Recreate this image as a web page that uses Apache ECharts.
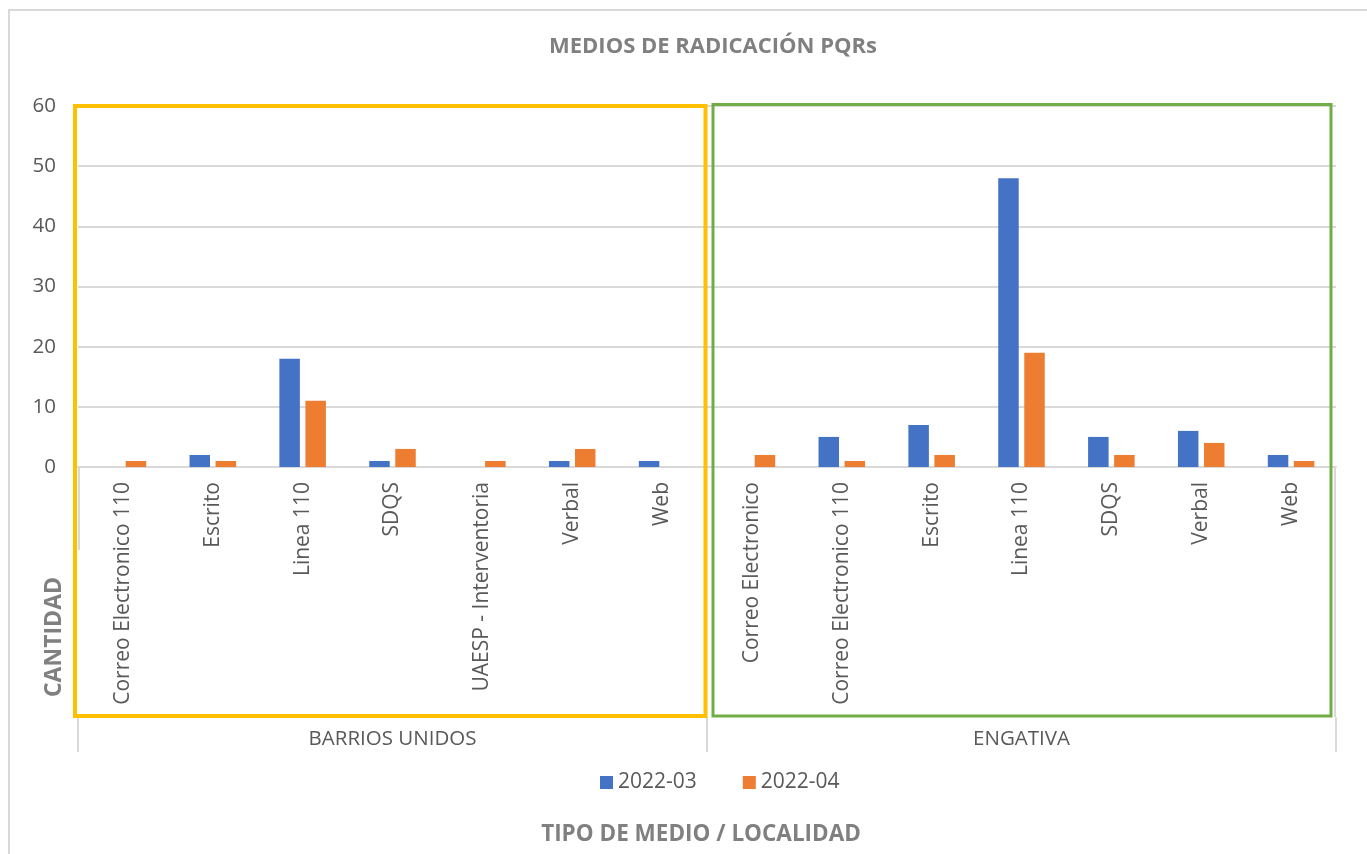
<!DOCTYPE html>
<html>
<head>
<meta charset="utf-8">
<script src="https://cdn.jsdelivr.net/npm/echarts@6/dist/echarts.min.js"></script>
<style>
  html, body { margin: 0; padding: 0; background: #fff; }
  #main { width: 1367px; height: 854px; }
</style>
</head>
<body>
<div id="main"></div>
<script>
// grupos (localidades) y medios de radicación
var groups = ['BARRIOS UNIDOS', 'ENGATIVA'];
var barriosCats = ['Correo Electronico 110', 'Escrito', 'Linea 110', 'SDQS', 'UAESP - Interventoria', 'Verbal', 'Web'];
var engativaCats = ['Correo Electronico', 'Correo Electronico 110', 'Escrito', 'Linea 110', 'SDQS', 'Verbal', 'Web'];
var seriesNames = ['2022-03', '2022-04'];
var yTicks = [0, 10, 20, 30, 40, 50, 60];

// valores (null = sin barra)
var barrios03 = [null, 2, 18, 1, null, 1, 1];
var barrios04 = [1, 1, 11, 3, 1, 3, null];
var engativa03 = [null, 5, 7, 48, 5, 6, 2];
var engativa04 = [2, 1, 2, 19, 2, 4, 1];

var cats = barriosCats.concat(engativaCats);
var gridL = 78, gridR = 1336, gridT = 106, gridB = 467;
var txt = '#595959', grey = '#d9d9d9', titleCol = '#808080';
var font = '"Open Sans", "DejaVu Sans", sans-serif';

var chart = echarts.init(document.getElementById('main'));

var option = {
  animation: false,
  backgroundColor: '#fff',
  textStyle: { fontFamily: font },
  grid: { left: gridL, right: 1367 - gridR, top: gridT, bottom: 854 - gridB, containLabel: false },
  legend: {
    data: seriesNames,
    left: 595, top: 767,
    itemWidth: 13, itemHeight: 13, itemGap: 46,
    icon: 'rect',
    textStyle: { color: txt, fontSize: 21, fontFamily: font }
  },
  xAxis: [
    {
      type: 'category',
      data: cats,
      axisLine: { show: true, lineStyle: { color: grey, width: 2 } },
      axisTick: { show: false },
      axisLabel: { rotate: 90, margin: 15, interval: 0, color: txt, fontSize: 21, fontFamily: font }
    },
    {
      type: 'category',
      data: groups,
      position: 'bottom',
      offset: 250,
      axisLine: { show: false },
      axisTick: { show: true, length: 35, interval: 0, lineStyle: { color: grey, width: 2 } },
      axisLabel: { margin: 12, color: txt, fontSize: 20.5, fontFamily: font },
      splitLine: { show: false }
    }
  ],
  yAxis: {
    type: 'value',
    min: yTicks[0], max: yTicks[yTicks.length - 1], interval: 10,
    axisLine: { show: false },
    axisTick: { show: false },
    splitLine: { lineStyle: { color: grey, width: 2 } },
    axisLabel: { margin: 22, color: txt, fontSize: 20.5, fontFamily: font }
  },
  series: [
    {
      name: seriesNames[0], type: 'bar',
      data: barrios03.concat(engativa03),
      barWidth: 20.5, barGap: '27%',
      itemStyle: { color: '#4472C4' }
    },
    {
      name: seriesNames[1], type: 'bar',
      data: barrios04.concat(engativa04),
      barWidth: 20.5, barGap: '27%',
      itemStyle: { color: '#ED7D31' }
    }
  ],
  graphic: [
    // borde del area del grafico
    { type: 'rect', z: -1, shape: { x: 9, y: 10, width: 1420, height: 900 },
      style: { fill: null, stroke: grey, lineWidth: 2 } },
    // lineas laterales de la tabla de categorias
    { type: 'line', shape: { x1: gridL + 1, y1: gridB, x2: gridL + 1, y2: 550 }, style: { stroke: grey, lineWidth: 2 } },
    { type: 'line', shape: { x1: gridR - 1, y1: gridB, x2: gridR - 1, y2: 717 }, style: { stroke: grey, lineWidth: 2 } },
    // recuadros de resalte
    { type: 'rect', z: 100, shape: { x: 75, y: 106, width: 630.5, height: 610 },
      style: { fill: null, stroke: '#FFC000', lineWidth: 4 } },
    { type: 'rect', z: 100, shape: { x: 713, y: 104.5, width: 618, height: 611.5 },
      style: { fill: null, stroke: '#70AD47', lineWidth: 3 } },
    // titulos
    { type: 'text', x: 713, y: 47, style: { text: 'MEDIOS DE RADICACIÓN PQRs', fill: titleCol,
      font: 'bold 22px ' + font, align: 'center', verticalAlign: 'middle' } },
    { type: 'text', x: 701, y: 835, style: { text: 'TIPO DE MEDIO / LOCALIDAD', fill: titleCol,
      font: 'bold 22.5px ' + font, align: 'center', verticalAlign: 'middle' } },
    { type: 'text', x: 54, y: 637, rotation: Math.PI / 2, style: { text: 'CANTIDAD', fill: titleCol,
      font: 'bold 23px ' + font, align: 'center', verticalAlign: 'middle' } }
  ]
};

chart.setOption(option);
</script>
</body>
</html>
